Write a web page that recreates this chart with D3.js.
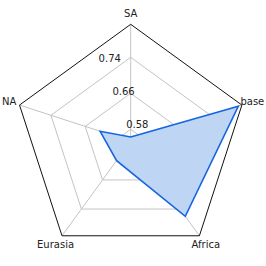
<!DOCTYPE html>
<html>
<head>
<meta charset="utf-8">
<script src="https://cdn.jsdelivr.net/npm/d3@7"></script>
<style>
  body { margin: 0; background: #fff; }
  svg text { font-family: "DejaVu Sans", sans-serif; font-size: 10px; fill: #222; }
</style>
</head>
<body>
<div id="radar"></div>
<script>
// axes go clockwise from the top
const axes = ["SA", "base", "Africa", "Eurasia", "NA"];
const values = [0.563, 0.805, 0.760, 0.607, 0.625];
const ticks = [0.58, 0.66, 0.74];
const rMin = 0.5536, rMax = 0.8134;

const width = 266, height = 266;
const cx = 130.7, cy = 141.2, R = 116.9;

const svg = d3.select("#radar")
	.append("svg")
	.attr("width", width)
	.attr("height", height);

const r = d3.scaleLinear().domain([rMin, rMax]).range([0, R]);
const angle = i => i * 2 * Math.PI / axes.length; // 0 = up, clockwise

const g = svg.append("g").attr("transform", `translate(${cx},${cy})`);

const radial = d3.lineRadial()
	.angle((d, i) => angle(i))
	.radius(d => d)
	.curve(d3.curveLinearClosed);

// gray rings
g.selectAll(".ring")
	.data(ticks)
	.enter()
	.append("path")
	.attr("d", t => radial(axes.map(() => r(t))))
	.attr("fill", "none")
	.attr("stroke", "#c4c4c4")
	.attr("stroke-width", 1);

// spokes
g.selectAll(".spoke")
	.data(axes)
	.enter()
	.append("line")
	.attr("x1", 0).attr("y1", 0)
	.attr("x2", (d, i) => R * Math.sin(angle(i)))
	.attr("y2", (d, i) => -R * Math.cos(angle(i)))
	.attr("stroke", "#c4c4c4")
	.attr("stroke-width", 1);

// data polygon
g.append("path")
	.attr("d", radial(values.map(v => r(v))))
	.attr("fill", "#bfd5f4")
	.attr("stroke", "#1565e0")
	.attr("stroke-width", 1.6)
	.attr("stroke-linejoin", "miter");

// outer frame
g.append("path")
	.attr("d", radial(axes.map(() => R)))
	.attr("fill", "none")
	.attr("stroke", "#111")
	.attr("stroke-width", 1);

// tick labels along 22.5 deg left of the top axis
const la = -22.5 * Math.PI / 180;
g.selectAll(".tick")
	.data(ticks)
	.enter()
	.append("text")
	.attr("x", t => r(t) * Math.sin(la))
	.attr("y", t => -r(t) * Math.cos(la) - 2)
	.attr("text-anchor", "start")
	.text(t => t.toFixed(2));

// axis labels
g.selectAll(".axlabel")
	.data(axes)
	.enter()
	.append("text")
	.attr("x", (d, i) => (R + 11) * Math.sin(angle(i)))
	.attr("y", (d, i) => -(R + 11) * Math.cos(angle(i)))
	.attr("text-anchor", "middle")
	.attr("dominant-baseline", "central")
	.text(d => d);
</script>
</body>
</html>
